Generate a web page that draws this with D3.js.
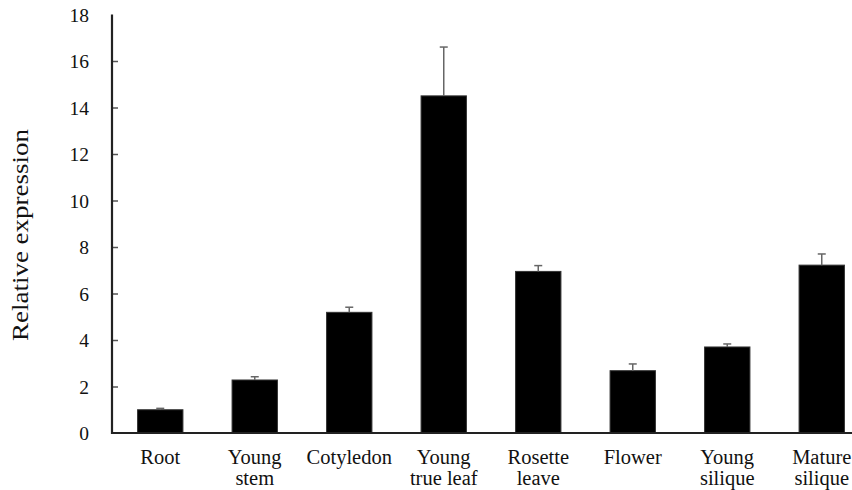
<!DOCTYPE html>
<html>
<head>
<meta charset="utf-8">
<script src="https://cdn.jsdelivr.net/npm/d3@7"></script>
<style>
  html, body { margin: 0; padding: 0; background: #fff; }
  svg { display: block; }
</style>
</head>
<body>
<svg id="chart" width="852" height="490"></svg>
<script>
const categories = [["Root"], ["Young", "stem"], ["Cotyledon"], ["Young", "true leaf"], ["Rosette", "leave"], ["Flower"], ["Young", "silique"], ["Mature", "silique"]];
const values = [1.0, 2.28, 5.19, 14.5, 6.95, 2.68, 3.70, 7.22];
const errors = [0.06, 0.14, 0.22, 2.1, 0.25, 0.29, 0.13, 0.48];
const yTicks = [0, 2, 4, 6, 8, 10, 12, 14, 16, 18];

const FONT = "'Liberation Serif', 'Times New Roman', serif";
const svg = d3.select("#chart");
const x0 = 113, yBottom = 433, yTop = 14.5;
const step = 94.5;

const x = d3.scaleBand()
  .domain(d3.range(categories.length))
  .range([x0, x0 + step * categories.length])
  .paddingInner(0.52).paddingOuter(0.26);

const y = d3.scaleLinear().domain([0, 18]).range([yBottom, yTop]);

// bars
svg.append("g").selectAll("rect").data(values).join("rect")
  .attr("x", (d, i) => x(i))
  .attr("y", d => y(d))
  .attr("width", x.bandwidth())
  .attr("height", d => y(0) - y(d))
  .attr("fill", "#000")
  .attr("stroke", "#333")
  .attr("stroke-width", 1);

// error bars
const eg = svg.append("g").attr("stroke", "#666").attr("stroke-width", 1.5);
values.forEach((v, i) => {
  const cx = x(i) + x.bandwidth() / 2;
  eg.append("line").attr("x1", cx).attr("x2", cx).attr("y1", y(v)).attr("y2", y(v + errors[i]));
  eg.append("line").attr("x1", cx - 4).attr("x2", cx + 4).attr("y1", y(v + errors[i])).attr("y2", y(v + errors[i]));
});

// y axis
const yAxis = d3.axisLeft(y).tickValues(yTicks).tickSize(-6).tickPadding(23).tickFormat(d3.format("d"));
const ya = svg.append("g").attr("transform", "translate(112,0)").call(yAxis);
ya.attr("font-family", null).attr("font-size", null);
ya.select(".domain").remove();
ya.selectAll(".tick line").attr("stroke", "#555").attr("stroke-width", 1.5);
ya.selectAll(".tick text")
  .style("font-family", FONT).style("font-size", "19.5px").attr("fill", "#111").attr("dy", "0.34em");
ya.selectAll(".tick").filter(d => d === 0 || d === 18).select("line").remove();
svg.append("line").attr("x1", 112).attr("x2", 112).attr("y1", yTop).attr("y2", yBottom + 1)
  .attr("stroke", "#222").attr("stroke-width", 2.2);

// x axis
svg.append("line").attr("x1", 111).attr("x2", 852).attr("y1", yBottom).attr("y2", yBottom)
  .attr("stroke", "#222").attr("stroke-width", 2);

// category labels
const lg = svg.append("g");
categories.forEach((lines, i) => {
  const cx = x(i) + x.bandwidth() / 2;
  const t = lg.append("text").attr("text-anchor", "middle")
    .style("font-family", FONT).style("font-size", "20.5px").attr("fill", "#111")
    .attr("x", cx).attr("y", 464);
  lines.forEach((ln, k) => {
    t.append("tspan").attr("x", cx).attr("dy", k === 0 ? 0 : 21).text(ln);
  });
});

// y title
svg.append("text").attr("text-anchor", "middle")
  .style("font-family", FONT).style("font-size", "23px").attr("fill", "#111")
  .attr("textLength", 212).attr("lengthAdjust", "spacingAndGlyphs")
  .attr("transform", "translate(28,235) rotate(-90)").text("Relative expression");
</script>
</body>
</html>
